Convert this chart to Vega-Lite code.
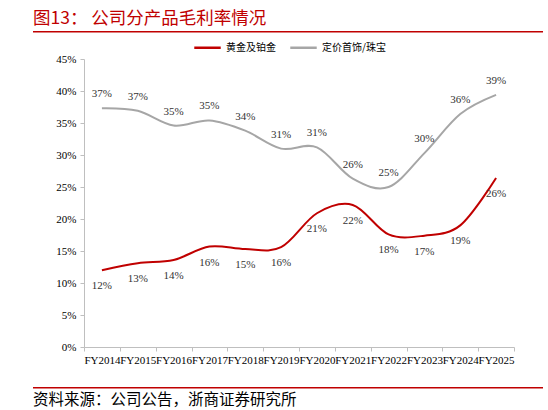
{
  "$schema": "https://vega.github.io/schema/vega-lite/v6.json",
  "background": "white",
  "padding": {"left": 33, "top": 9, "right": 5, "bottom": 0},
  "title": {
    "text": "图13：  公司分产品毛利率情况",
    "anchor": "start",
    "font": "Noto Sans CJK SC",
    "fontSize": 17.5,
    "fontWeight": "normal",
    "color": "#C00000",
    "offset": -1.5
  },
  "data": {
    "values": [
      {"year": "FY2014", "series": "黄金及铂金", "value": 0.120},
      {"year": "FY2015", "series": "黄金及铂金", "value": 0.131},
      {"year": "FY2016", "series": "黄金及铂金", "value": 0.136},
      {"year": "FY2017", "series": "黄金及铂金", "value": 0.157},
      {"year": "FY2018", "series": "黄金及铂金", "value": 0.153},
      {"year": "FY2019", "series": "黄金及铂金", "value": 0.156},
      {"year": "FY2020", "series": "黄金及铂金", "value": 0.209},
      {"year": "FY2021", "series": "黄金及铂金", "value": 0.222},
      {"year": "FY2022", "series": "黄金及铂金", "value": 0.176},
      {"year": "FY2023", "series": "黄金及铂金", "value": 0.174},
      {"year": "FY2024", "series": "黄金及铂金", "value": 0.190},
      {"year": "FY2025", "series": "黄金及铂金", "value": 0.264},
      {"year": "FY2014", "series": "定价首饰/珠宝", "value": 0.373},
      {"year": "FY2015", "series": "定价首饰/珠宝", "value": 0.369},
      {"year": "FY2016", "series": "定价首饰/珠宝", "value": 0.346},
      {"year": "FY2017", "series": "定价首饰/珠宝", "value": 0.354},
      {"year": "FY2018", "series": "定价首饰/珠宝", "value": 0.338},
      {"year": "FY2019", "series": "定价首饰/珠宝", "value": 0.310},
      {"year": "FY2020", "series": "定价首饰/珠宝", "value": 0.312},
      {"year": "FY2021", "series": "定价首饰/珠宝", "value": 0.263},
      {"year": "FY2022", "series": "定价首饰/珠宝", "value": 0.250},
      {"year": "FY2023", "series": "定价首饰/珠宝", "value": 0.303},
      {"year": "FY2024", "series": "定价首饰/珠宝", "value": 0.364},
      {"year": "FY2025", "series": "定价首饰/珠宝", "value": 0.394}
    ]
  },
  "spacing": 16,
  "vconcat": [
    {
      "width": 510,
      "height": 1.5,
      "view": {"stroke": null, "fill": "#C00000"},
      "mark": "text",
      "encoding": {"text": {"value": ""}}
    },
    {
      "spacing": 1,
      "hconcat": [
        {
          "width": 1,
          "height": 288,
          "mark": "text",
          "encoding": {"text": {"value": ""}}
        },
        {
          "width": 430,
          "height": 288,
          "encoding": {
            "x": {
              "field": "year",
              "type": "ordinal",
              "sort": null,
              "bandPosition": 0.5,
              "scale": {"type": "band", "paddingInner": 0, "paddingOuter": 0},
              "axis": {
                "title": null,
                "labelAngle": 0,
                "labelOverlap": false,
                "labelFont": "Liberation Serif, serif",
                "labelFontSize": 11,
                "labelColor": "#000000",
                "labelPadding": 3,
                "domainColor": "#BFBFBF",
                "tickColor": "#BFBFBF",
                "tickSize": 4,
                "tickBand": "extent",
                "minExtent": 16
              }
            },
            "y": {
              "field": "value",
              "type": "quantitative",
              "scale": {"domain": [0, 0.45], "nice": false},
              "axis": {
                "title": null,
                "format": ".0%",
                "values": [0, 0.05, 0.1, 0.15, 0.2, 0.25, 0.3, 0.35, 0.4, 0.45],
                "grid": false,
                "labelFont": "Liberation Serif, serif",
                "labelFontSize": 11,
                "labelColor": "#000000",
                "labelPadding": 4,
                "domainColor": "#BFBFBF",
                "tickColor": "#BFBFBF",
                "tickSize": 4,
                "minExtent": 49
              }
            }
          },
          "layer": [
            {
              "mark": {"type": "line", "interpolate": "cardinal", "strokeWidth": 2},
              "encoding": {
                "color": {
                  "field": "series",
                  "type": "nominal",
                  "scale": {
                    "domain": ["黄金及铂金", "定价首饰/珠宝"],
                    "range": ["#C00000", "#A6A6A6"]
                  },
                  "legend": {
                    "title": null,
                    "orient": "none",
                    "legendX": 160,
                    "legendY": 2,
                    "direction": "horizontal",
                    "symbolType": "stroke",
                    "symbolSize": 700,
                    "symbolStrokeWidth": 2.5,
                    "labelFont": "Noto Sans CJK SC",
                    "labelFontSize": 10,
                    "labelColor": "#000000",
                    "labelOffset": 4,
                    "columnPadding": 9
                  }
                }
              }
            },
            {
              "transform": [{"filter": "datum.series == '定价首饰/珠宝'"}],
              "mark": {"type": "text", "dy": -14, "font": "Liberation Serif, serif", "fontSize": 11, "color": "#333333"},
              "encoding": {"text": {"field": "value", "type": "quantitative", "format": ".0%"}}
            },
            {
              "transform": [{"filter": "datum.series == '黄金及铂金'"}],
              "mark": {"type": "text", "dy": 16, "font": "Liberation Serif, serif", "fontSize": 11, "color": "#333333"},
              "encoding": {"text": {"field": "value", "type": "quantitative", "format": ".0%"}}
            }
          ]
        }
      ]
    },
    {
      "width": 510,
      "height": 1.5,
      "view": {"stroke": null, "fill": "#C00000"},
      "title": {
        "text": "资料来源：公司公告，浙商证券研究所",
        "orient": "bottom",
        "anchor": "start",
        "font": "Noto Sans CJK SC",
        "fontSize": 15.5,
        "fontWeight": "normal",
        "color": "#000000",
        "offset": 0
      },
      "mark": "text",
      "encoding": {"text": {"value": ""}}
    }
  ],
  "config": {"view": {"stroke": null}}
}
